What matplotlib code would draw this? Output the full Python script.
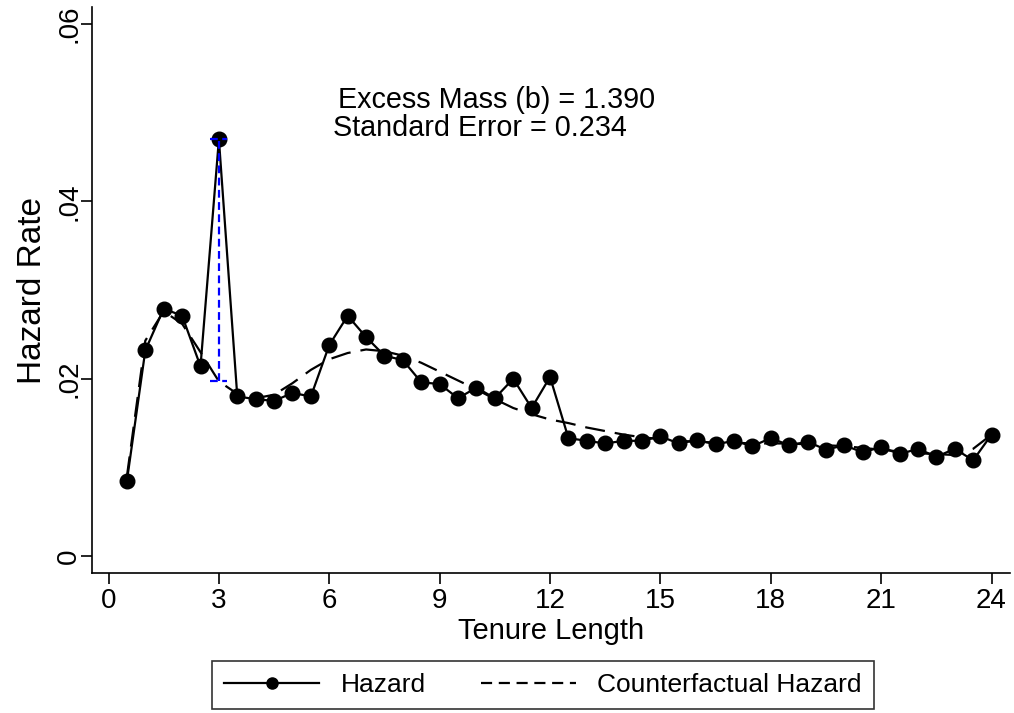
import numpy as np
import matplotlib
matplotlib.use('Agg')
from matplotlib import pyplot as plt
from matplotlib.lines import Line2D

plt.rcParams['font.family'] = ['Liberation Sans', 'DejaVu Sans']

# tenure length (half-year bins)
tenure = [0.5, 1, 1.5, 2, 2.5, 3, 3.5, 4, 4.5, 5, 5.5, 6,
          6.5, 7, 7.5, 8, 8.5, 9, 9.5, 10, 10.5, 11, 11.5, 12,
          12.5, 13, 13.5, 14, 14.5, 15, 15.5, 16, 16.5, 17, 17.5, 18,
          18.5, 19, 19.5, 20, 20.5, 21, 21.5, 22, 22.5, 23, 23.5, 24]

hazard = [0.0085, 0.0232, 0.0279, 0.0271, 0.0214, 0.0470, 0.0180, 0.0177,
          0.0175, 0.0184, 0.0180, 0.0238, 0.0271, 0.0247, 0.0226, 0.0221,
          0.0196, 0.0194, 0.0178, 0.0190, 0.0178, 0.0200, 0.0167, 0.0202,
          0.0133, 0.0130, 0.0127, 0.0130, 0.0130, 0.0135, 0.0127, 0.0131,
          0.0126, 0.0130, 0.0124, 0.0133, 0.0125, 0.0129, 0.0120, 0.0125,
          0.0117, 0.0123, 0.0115, 0.0121, 0.0112, 0.0121, 0.0108, 0.0137]

counterfactual = [0.0090, 0.0243, 0.0276, 0.0262, 0.0230, 0.0197, 0.0183, 0.0178,
                  0.0182, 0.0195, 0.0210, 0.0222, 0.0229, 0.0233, 0.0231, 0.0226,
                  0.0218, 0.0208, 0.0198, 0.0188, 0.0177, 0.0167, 0.0160, 0.0154,
                  0.0150, 0.0145, 0.0141, 0.0137, 0.0134, 0.0132, 0.0130, 0.0129,
                  0.0128, 0.0128, 0.0127, 0.0127, 0.0127, 0.0126, 0.0125, 0.0124,
                  0.0122, 0.0120, 0.0118, 0.0116, 0.0115, 0.0114, 0.0121, 0.0137]

bunch_point = 3
excess_mass = 1.390
std_error = 0.234

fig = plt.figure(figsize=(10.14, 7.13), dpi=100)
ax = fig.add_axes([0.0907, 0.1964, 0.9053, 0.7936])

ax.plot(tenure, hazard, '-o', color='black', lw=1.6, markersize=10.5, zorder=3)
ax.plot(tenure, counterfactual, color='black', lw=1.6, dashes=(9, 4.5), zorder=2)

# excess mass at the bunching point
i = tenure.index(bunch_point)
ax.plot([bunch_point, bunch_point], [counterfactual[i], hazard[i]],
        color='blue', lw=1.6, dashes=(3.5, 2), zorder=4)
for yv in (counterfactual[i], hazard[i]):
    ax.plot([bunch_point - 0.23, bunch_point + 0.23], [yv, yv],
            color='blue', lw=1.6, dashes=(3.5, 2), zorder=4)

ax.text(6.23, 0.0514, 'Excess Mass (b) = %.3f' % excess_mass,
        fontsize=20.7, va='center', ha='left')
ax.text(6.1, 0.0483, 'Standard Error = %.3f' % std_error,
        fontsize=20.7, va='center', ha='left')

ax.set_xlim(-0.45, 24.5)
ax.set_ylim(-0.0019, 0.0619)
ax.set_xticks([0, 3, 6, 9, 12, 15, 18, 21, 24])
ax.set_yticks([0, 0.02, 0.04, 0.06])
ax.set_yticklabels(['0', '.02', '.04', '.06'], rotation=90, va='center')

ax.spines['top'].set_visible(False)
ax.spines['right'].set_visible(False)
for s in ('left', 'bottom'):
    ax.spines[s].set_linewidth(1.2)
ax.tick_params(direction='out', length=8, width=1.2, labelsize=20)
ax.tick_params(axis='x', pad=3)
ax.tick_params(axis='y', pad=-1)

ax.set_xlabel('Tenure Length', fontsize=21, labelpad=2)
ax.set_ylabel('Hazard Rate', fontsize=24, labelpad=6)

handles = [Line2D([], [], color='black', lw=1.6, marker='o', markersize=8),
           Line2D([], [], color='black', lw=1.6, dashes=(5, 3))]
leg = fig.legend(handles, ['Hazard', 'Counterfactual Hazard'],
                 loc='center', bbox_to_anchor=(0.5355, 0.0393), ncol=2,
                 fontsize=19, frameon=True, fancybox=False, handlelength=3.6,
                 columnspacing=2.1, borderpad=0.45, handletextpad=0.8)
leg.get_frame().set_edgecolor('black')
leg.get_frame().set_linewidth(1.2)

fig.savefig('out.png', dpi=100)
